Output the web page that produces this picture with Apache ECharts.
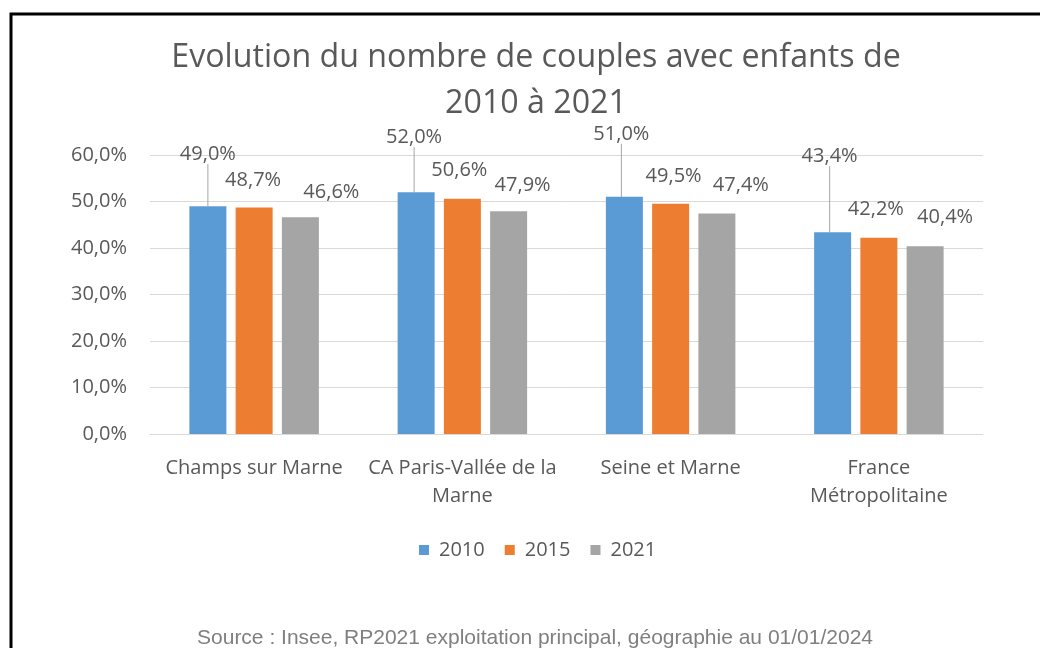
<!DOCTYPE html>
<html>
<head>
<meta charset="utf-8">
<style>
  html, body { margin: 0; padding: 0; background: #fff; }
  #main { width: 1040px; height: 648px; }
</style>
<script src="https://cdn.jsdelivr.net/npm/echarts@6/dist/echarts.min.js"></script>
</head>
<body>
<div id="main"></div>
<script>
// chart data
var categories = [
  "Champs sur Marne",
  "CA Paris-Vallée de la\nMarne",
  "Seine et Marne",
  "France\nMétropolitaine"
];
var years = ["2010", "2015", "2021"];
var values2010 = [49.0, 52.0, 51.0, 43.4];
var values2015 = [48.7, 50.6, 49.5, 42.2];
var values2021 = [46.6, 47.9, 47.4, 40.4];
var yTicks = [0, 10, 20, 30, 40, 50, 60];

// label placement (offset of label centre from bar top centre), like Excel's
var labelShift = [
  [[0, -52], [-2, -55], [-3, -63], [-3, -76]],
  [[-1, -27], [-3, -28], [3, -28], [-3, -28]],
  [[31, -25], [14, -26], [24, -28], [20, -29]]
];

var colors = ["#5b9bd5", "#ed7d31", "#a5a5a5"];
var textGray = "#595959";
var font = "Open Sans";

function fmt(v) {
  return v.toFixed(1).replace(".", ",") + "%";
}

function makeSeries(idx, values) {
  return {
    name: years[idx],
    type: "bar",
    data: values,
    barWidth: 37,
    barGap: "25%",
    itemStyle: { color: colors[idx] },
    label: {
      show: true,
      position: "top",
      color: textGray,
      fontFamily: font,
      fontSize: 20,
      formatter: function (p) { return fmt(p.value); }
    },
    labelLine: {
      show: idx === 0,
      lineStyle: { color: "#a6a6a6", width: 1 }
    },
    labelLayout: function (params) {
      var r = params.rect;
      var s = labelShift[idx][params.dataIndex];
      return {
        x: r.x + r.width / 2 + s[0],
        y: r.y + s[1],
        align: "center",
        verticalAlign: "middle"
      };
    }
  };
}

var chartDom = document.getElementById("main");
var myChart = echarts.init(chartDom, null, { renderer: "canvas" });

var option = {
  animation: false,
  backgroundColor: "#ffffff",
  title: [
    {
      text: "Evolution du nombre de couples avec enfants de\n2010 à 2021",
      left: 531,
      top: 30,
      textAlign: "center",
      textStyle: {
        color: textGray,
        fontFamily: font,
        fontSize: 32.2,
        fontWeight: "normal",
        lineHeight: 46
      }
    },
    {
      text: "Source : Insee, RP2021 exploitation principal, géographie au 01/01/2024",
      left: 530,
      top: 623,
      textAlign: "center",
      textStyle: {
        color: "#7f7f7f",
        fontFamily: "Liberation Sans",
        fontSize: 21,
        fontWeight: "normal"
      }
    }
  ],
  legend: {
    data: years,
    left: 414,
    top: 535,
    itemWidth: 10,
    itemHeight: 10,
    itemGap: 20,
    icon: "rect",
    textStyle: {
      color: textGray,
      fontFamily: font,
      fontSize: 20,
      padding: [0, 0, 0, 5]
    }
  },
  grid: {
    left: 150,
    right: 57,
    top: 155,
    bottom: 214
  },
  xAxis: {
    type: "category",
    data: categories,
    axisLine: { lineStyle: { color: "#d9d9d9", width: 1 } },
    axisTick: { show: false },
    axisLabel: {
      interval: 0,
      color: textGray,
      fontFamily: font,
      fontSize: 20,
      lineHeight: 28,
      margin: 20
    }
  },
  yAxis: {
    type: "value",
    min: yTicks[0],
    max: yTicks[yTicks.length - 1],
    interval: 10,
    axisLine: { show: false },
    axisTick: { show: false },
    splitLine: { lineStyle: { color: "#d9d9d9", width: 1 } },
    axisLabel: {
      color: textGray,
      fontFamily: font,
      fontSize: 20,
      margin: 23,
      formatter: function (v) { return fmt(v); }
    }
  },
  graphic: [
    {
      type: "rect",
      silent: true,
      shape: { x: 11, y: 14, width: 1100, height: 700 },
      style: { fill: "none", stroke: "#000", lineWidth: 3 }
    }
  ],
  series: [
    makeSeries(0, values2010),
    makeSeries(1, values2015),
    makeSeries(2, values2021)
  ]
};

myChart.setOption(option);
</script>
</body>
</html>
